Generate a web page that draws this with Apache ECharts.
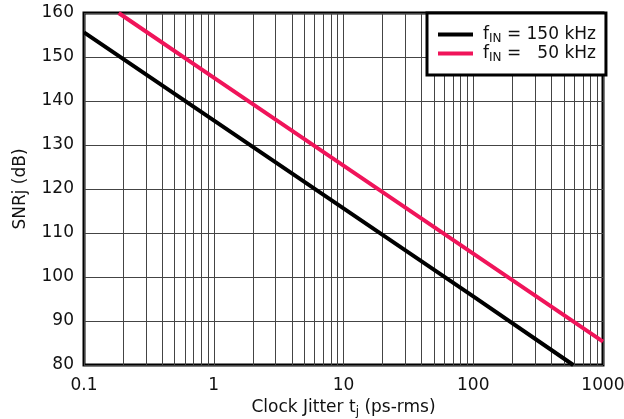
<!DOCTYPE html>
<html>
<head>
<meta charset="utf-8">
<script src="https://cdn.jsdelivr.net/npm/echarts@6/dist/echarts.min.js"></script>
<style>html,body{margin:0;padding:0;background:#fff}#c{width:624px;height:419px}</style>
</head>
<body>
<div id="c"></div>
<script>
// Data
var jitter150 = [0.1, 1, 10, 100, 590];
var snr150 = [155.6, 135.6, 115.6, 95.6, 80];
var jitter50 = [0.185, 1, 10, 100, 1000];
var snr50 = [160, 145.3, 125.3, 105.3, 85.3];
var xTickLabels = ['0.1', '1', '10', '100', '1000'];
var yTickLabels = [80, 90, 100, 110, 120, 130, 140, 150, 160];
var decades = [0.1, 1, 10, 100];
var minorMultipliers = [2, 3, 4, 5, 6, 7, 8, 9];

var FONT = 'DejaVu Sans';
var FS = 17;
var minorLines = [];
decades.forEach(function (d) {
  minorMultipliers.forEach(function (m) {
    minorLines.push({ xAxis: +(d * m).toPrecision(6) });
  });
});

function pairs(xs, ys) { return xs.map(function (x, i) { return [x, ys[i]]; }); }

var legendText = {
  'f150': '{f|f}{sub|IN}{t| = 150 kHz}',
  'f50': '{f|f}{sub|IN}{t| =   50 kHz}'
};

var chart = echarts.init(document.getElementById('c'), null, { renderer: 'canvas' });
chart.setOption({
  animation: false,
  backgroundColor: '#fff',
  grid: { left: 84, right: 21, top: 13, bottom: 54, show: true, borderColor: '#000', borderWidth: 3, backgroundColor: 'transparent', containLabel: false, outerBoundsMode: 'none' },
  legend: {
    orient: 'vertical',
    left: 427, top: 13,
    padding: [13, 10, 11, 11],
    icon: 'rect',
    itemWidth: 35, itemHeight: 4, itemGap: 0, itemTextGap: 10,
    backgroundColor: '#fff', borderColor: '#000', borderWidth: 3, borderRadius: 0,
    data: ['f150', 'f50'],
    formatter: function (name) { return legendText[name]; },
    textStyle: {
      fontFamily: FONT, fontSize: FS, color: '#111',
      rich: {
        f: { fontFamily: FONT, fontSize: FS, color: '#111', lineHeight: 20, padding: [0, 0, 0, 5] },
        sub: { fontFamily: FONT, fontSize: 12, color: '#111', padding: [9, 0, 0, 0] },
        t: { fontFamily: FONT, fontSize: FS, color: '#111', lineHeight: 20 }
      }
    }
  },
  xAxis: {
    type: 'log', logBase: 10, min: 0.1, max: 1000,
    name: 'Clock Jitter t{sub|j} (ps-rms)', nameLocation: 'middle', nameGap: 28,
    nameTextStyle: {
      fontFamily: FONT, fontSize: FS, color: '#111',
      rich: { sub: { fontFamily: FONT, fontSize: 12, color: '#111', padding: [9, 0, 0, 0] } }
    },
    axisLine: { show: false },
    axisTick: { show: false },
    axisLabel: {
      fontFamily: FONT, fontSize: FS, color: '#111', margin: 12,
      formatter: function (v) {
        var idx = Math.round(Math.log10(v)) + 1;
        return xTickLabels[idx] !== undefined ? xTickLabels[idx] : '';
      }
    },
    splitLine: { show: true, lineStyle: { color: '#444', width: 1 } }
  },
  yAxis: {
    type: 'value', min: yTickLabels[0], max: yTickLabels[yTickLabels.length - 1], interval: 10,
    name: 'SNRj (dB)', nameLocation: 'middle', nameGap: 55,
    nameTextStyle: { fontFamily: FONT, fontSize: FS, color: '#111' },
    axisLine: { show: false },
    axisTick: { show: false },
    axisLabel: { fontFamily: FONT, fontSize: FS, color: '#111', margin: 10 },
    splitLine: { show: true, lineStyle: { color: '#444', width: 1 } }
  },
  series: [
    {
      name: 'f150', type: 'line', data: pairs(jitter150, snr150),
      symbol: 'none', z: 3,
      lineStyle: { color: '#000', width: 4 }, itemStyle: { color: '#000' },
      markLine: {
        silent: true, symbol: 'none', label: { show: false },
        lineStyle: { color: '#444', width: 1, type: 'solid' },
        data: minorLines, z: 1
      }
    },
    {
      name: 'f50', type: 'line', data: pairs(jitter50, snr50),
      symbol: 'none', z: 3,
      lineStyle: { color: '#F0145A', width: 4 }, itemStyle: { color: '#F0145A' }
    }
  ]
});
</script>
</body>
</html>
